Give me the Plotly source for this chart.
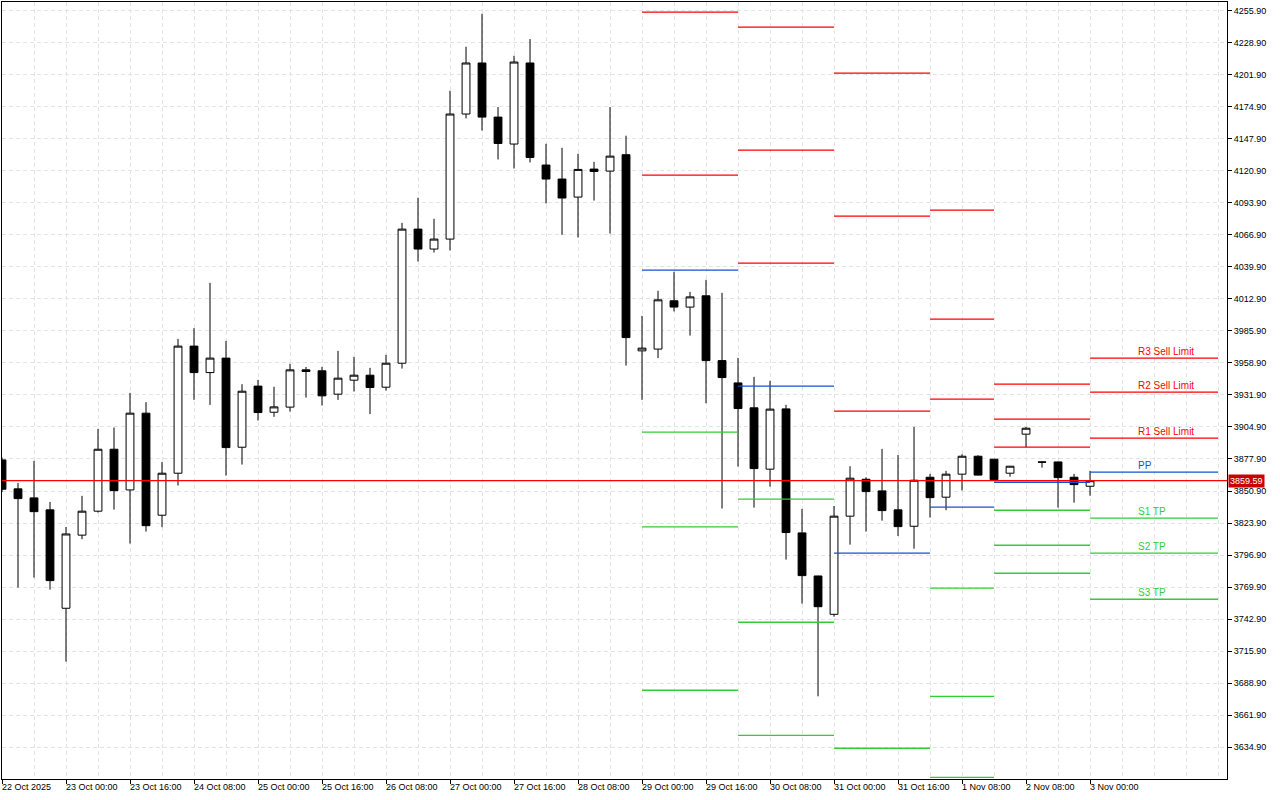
import plotly.graph_objects as go

# ---------------- data (4h candles, index based like MT chart) ----------------
opens = [3877.1, 3852.7, 3845.1, 3835.0, 3752.1, 3813.7, 3833.9, 3886.1, 3851.8, 3916.5,
         3830.5, 3865.9, 3973.0, 3950.7, 3962.9, 3887.8, 3939.3, 3917.3, 3921.6, 3953.0,
         3952.2, 3932.5, 3944.3, 3948.5, 3938.4, 3958.6, 4071.6, 4054.8, 4063.2, 4168.6,
         4211.6, 4166.0, 4143.3, 4211.6, 4125.6, 4113.8, 4098.6, 4122.2, 4120.5, 4134.3,
         3969.0, 3970.5, 4011.2, 4005.9, 4015.4, 3960.8, 3942.0, 3921.0, 3869.3, 3920.1,
         3815.6, 3779.3, 3747.0, 3829.7, 3860.8, 3851.0, 3835.0, 3821.2, 3862.5, 3845.7,
         3865.1, 3880.2, 3877.7, 3865.9, 3898.8, 3875.4, 3875.4, 3862.5, 3854.9]
highs = [3879.0, 3857.7, 3876.3, 3841.7, 3820.6, 3846.8, 3903.3, 3904.4, 3933.6, 3925.8,
         3875.4, 3979.1, 3988.2, 4026.3, 3977.4, 3940.9, 3944.6, 3938.7, 3958.1, 3955.5,
         3955.5, 3969.0, 3964.0, 3954.7, 3965.6, 4076.9, 4098.0, 4080.3, 4188.2, 4225.3,
         4253.1, 4174.5, 4217.7, 4231.8, 4143.5, 4140.1, 4135.1, 4128.3, 4174.5, 4150.3,
         3998.5, 4019.6, 4035.6, 4018.7, 4028.9, 4017.9, 3963.1, 3947.1, 3943.7, 3923.5,
         3835.8, 3779.5, 3838.3, 3871.8, 3862.5, 3886.4, 3881.3, 3904.9, 3865.3, 3867.9,
         3881.9, 3881.1, 3878.0, 3872.0, 3904.9, 3875.7, 3875.6, 3865.3, 3867.9]
lows = [3850.0, 3769.5, 3777.9, 3767.8, 3707.1, 3810.3, 3832.7, 3835.2, 3806.6, 3816.7,
        3820.4, 3855.5, 3927.7, 3923.5, 3863.9, 3873.2, 3910.3, 3913.4, 3917.8, 3929.6,
        3922.9, 3927.7, 3934.7, 3915.7, 3935.5, 3954.1, 4044.3, 4051.9, 4053.6, 4164.9,
        4154.7, 4130.3, 4122.7, 4127.8, 4093.2, 4066.8, 4064.5, 4095.7, 4067.9, 3956.6,
        3927.7, 3962.9, 4002.2, 3981.9, 3924.9, 3836.1, 3871.5, 3836.9, 3854.6, 3793.1,
        3756.0, 3677.9, 3745.0, 3805.7, 3816.7, 3825.9, 3813.0, 3802.3, 3828.5, 3834.7,
        3851.3, 3864.0, 3860.3, 3863.0, 3887.8, 3870.6, 3836.9, 3841.1, 3847.0]
closes = [3852.4, 3844.5, 3833.5, 3775.4, 3814.7, 3833.9, 3886.1, 3851.2, 3916.5, 3821.7,
          3865.9, 3973.0, 3950.7, 3962.9, 3887.5, 3935.0, 3917.0, 3921.8, 3953.0, 3951.6,
          3931.1, 3946.0, 3948.5, 3938.1, 3958.6, 4071.6, 4054.8, 4063.2, 4168.6, 4211.6,
          4166.0, 4143.8, 4212.4, 4132.0, 4113.8, 4097.8, 4121.9, 4120.2, 4133.1, 3980.2,
          3971.3, 4012.0, 4005.9, 4014.5, 3960.8, 3946.5, 3920.4, 3869.8, 3919.9, 3815.9,
          3779.6, 3753.4, 3829.7, 3861.7, 3850.4, 3834.4, 3820.9, 3860.0, 3845.3, 3865.1,
          3880.2, 3864.3, 3860.5, 3871.8, 3903.8, 3875.2, 3862.2, 3856.3, 3859.59]
bar_index = list(range(len(opens)))

x_tick_pos = list(range(0, 69, 4))
x_tick_labels = ["22 Oct 2025", "23 Oct 00:00", "23 Oct 16:00", "24 Oct 08:00",
                 "25 Oct 00:00", "25 Oct 16:00", "26 Oct 08:00", "27 Oct 00:00",
                 "27 Oct 16:00", "28 Oct 08:00", "29 Oct 00:00", "29 Oct 16:00",
                 "30 Oct 08:00", "31 Oct 00:00", "31 Oct 16:00", "1 Nov 08:00",
                 "2 Nov 08:00", "3 Nov 00:00"]
y_tick_vals = [3634.9 + 27 * k for k in range(24)]

# daily pivot levels (segment start/end in bar index)
seg_start = [40, 46, 52, 58, 62, 68]
seg_end = [46, 52, 58, 62, 68, 76]
R3 = [None, 4241.9, 4203.1, 4087.6, 3940.9, 3962.9]
R2 = [4254.5, 4138.2, 4082.6, 3995.7, 3911.4, 3934.2]
R1 = [4117.1, 4042.9, 3918.2, 3928.3, 3887.8, 3895.4]
PP = [4037.0, 3939.3, 3798.5, 3837.3, 3858.3, 3866.8]
S1 = [3900.5, 3844.0, 3634.1, 3769.0, 3834.7, 3828.0]
S2 = [3820.6, 3740.3, None, 3677.9, 3805.2, 3798.5]
S3 = [3683.0, 3645.0, None, 3609.6, 3781.6, 3759.7]
level_names = ["R3", "R2", "R1", "PP", "S1", "S2", "S3"]
level_labels = ["R3 Sell Limit", "R2 Sell Limit", "R1 Sell Limit", "PP", "S1 TP", "S2 TP", "S3 TP"]
bid_price = 3859.59

RED = "#ff0000"
BLUE = "#1450d2"
GREEN = "#32cd32"
level_values = {"R3": R3, "R2": R2, "R1": R1, "PP": PP, "S1": S1, "S2": S2, "S3": S3}
level_colors = {"R3": RED, "R2": RED, "R1": RED, "PP": BLUE, "S1": GREEN, "S2": GREEN, "S3": GREEN}

FONT = "Liberation Sans, Arial, sans-serif"
GRID = "#e3e3e3"

fig = go.Figure()

fig.add_trace(go.Candlestick(
    x=bar_index, open=opens, high=highs, low=lows, close=closes,
    increasing=dict(line=dict(color="black", width=1), fillcolor="white"),
    decreasing=dict(line=dict(color="black", width=1), fillcolor="black"),
    whiskerwidth=0, hoverinfo="skip", showlegend=False,
))

for name in level_names:
    xs, ys = [], []
    for s, e, v in zip(seg_start, seg_end, level_values[name]):
        if v is None:
            continue
        xs += [s, e, None]
        ys += [v, v, None]
    fig.add_trace(go.Scatter(x=xs, y=ys, mode="lines",
                             line=dict(color=level_colors[name], width=1.3),
                             hoverinfo="skip", showlegend=False))

annotations = []
# level labels on the current (last) segment
for name, lab in zip(level_names, level_labels):
    annotations.append(dict(
        x=71.0, y=level_values[name][-1], xref="x", yref="y",
        text=lab, showarrow=False, xanchor="left", yanchor="bottom",
        xshift=-1, yshift=0, borderpad=0,
        font=dict(family=FONT, size=10, color=level_colors[name])))

# time labels, left-aligned at their ticks (MT style)
for pos, lab in zip(x_tick_pos, x_tick_labels):
    annotations.append(dict(
        x=pos, y=0, xref="x", yref="paper", text=lab, showarrow=False,
        xanchor="left", yanchor="top", xshift=-1, yshift=-2, borderpad=0,
        font=dict(family=FONT, size=9, color="black")))

# bid price tag
annotations.append(dict(
    x=1, y=bid_price, xref="paper", yref="y", text=f"{bid_price:.2f}",
    showarrow=False, xanchor="left", yanchor="middle", xshift=1,
    bgcolor="#c80000", borderpad=1,
    font=dict(family=FONT, size=9, color="white")))

fig.add_shape(type="line", xref="paper", x0=0, x1=1, yref="y", y0=bid_price, y1=bid_price,
              line=dict(color=RED, width=1.2), layer="above")

fig.update_layout(
    width=1280, height=800,
    margin=dict(l=2, r=53, t=2, b=21),
    paper_bgcolor="white", plot_bgcolor="white",
    showlegend=False,
    font=dict(family=FONT, size=9, color="black"),
    annotations=annotations,
    xaxis=dict(
        range=[0, 76.56], rangeslider=dict(visible=False),
        tickmode="array", tickvals=x_tick_pos, showticklabels=False,
        ticks="outside", ticklen=4, tickcolor="black",
        showgrid=True, gridcolor=GRID, griddash="4px,3px", gridwidth=1,
        minor=dict(tick0=0, dtick=2, showgrid=True, gridcolor=GRID,
                   griddash="4px,3px", gridwidth=1, ticks=""),
        showline=True, linecolor="black", linewidth=1, mirror=True,
        zeroline=False, fixedrange=True,
    ),
    yaxis=dict(
        range=[3608.2, 4263.0], side="right",
        tickmode="array", tickvals=y_tick_vals, tickformat=".2f",
        ticks="outside", ticklen=4, tickcolor="black",
        tickfont=dict(family=FONT, size=9, color="black"),
        showgrid=True, gridcolor=GRID, griddash="4px,3px", gridwidth=1,
        showline=True, linecolor="black", linewidth=1, mirror=True,
        zeroline=False, fixedrange=True,
    ),
)

fig.write_html("out.html", config={"displayModeBar": False},
               post_script="document.body.style.margin='0';")
